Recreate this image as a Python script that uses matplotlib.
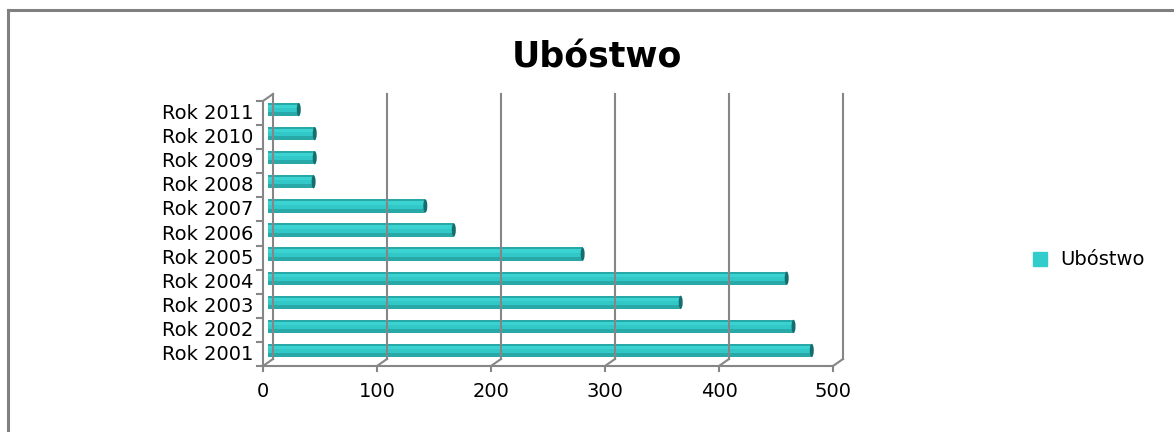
import matplotlib.pyplot as plt
from matplotlib.patches import Rectangle, Ellipse
from matplotlib.transforms import ScaledTranslation

plt.rcParams["font.family"] = ["DejaVu Sans"]

years = ["Rok 2001", "Rok 2002", "Rok 2003", "Rok 2004", "Rok 2005", "Rok 2006",
         "Rok 2007", "Rok 2008", "Rok 2009", "Rok 2010", "Rok 2011"]
values = [477, 461, 362, 455, 276, 163, 138, 40, 41, 41, 27]
xticks = [0, 100, 200, 300, 400, 500]
series_name = "Ubóstwo"

W, H, DPI = 1174, 432, 100
fig = plt.figure(figsize=(W / DPI, H / DPI), dpi=DPI)

# front plane of the 3d box, in pixels
left, right, bottom, top = 263, 833, 366, 101
ax = fig.add_axes([left / W, (H - bottom) / H, (right - left) / W, (bottom - top) / H])
ax.set_xlim(0, 500)
ax.set_ylim(0, len(years))
ax.axis("off")

px_x = 500 / (right - left)          # data units per pixel, x
px_y = len(years) / (bottom - top)   # data units per pixel, y

grid_c = "#868686"
dx, dy = 10, 7  # depth offset in pixels
back = ax.transData + ScaledTranslation(dx / DPI, dy / DPI, fig.dpi_scale_trans)
mid = ax.transData + ScaledTranslation(dx / 2 / DPI, dy / 2 / DPI, fig.dpi_scale_trans)
n = len(years)

# back wall gridlines and floor diagonals
for t in xticks:
    ax.plot([t, t], [0, n], color=grid_c, lw=1.5, transform=back, clip_on=False)
    ax.plot([t, t + dx * px_x], [0, dy * px_y], color=grid_c, lw=1.5, clip_on=False)
    ax.plot([t, t], [0, -5 * px_y], color=grid_c, lw=1.5, clip_on=False)
# left wall top diagonal
ax.plot([0, dx * px_x], [n, n + dy * px_y], color=grid_c, lw=1.5, clip_on=False)
# front axes
ax.plot([0, 0], [0, n], color=grid_c, lw=1.5, clip_on=False)
ax.plot([0, 500], [0, 0], color=grid_c, lw=1.5, clip_on=False)
for i in range(n + 1):
    ax.plot([-6 * px_x, 0], [i, i], color=grid_c, lw=1.5, clip_on=False)

# bars
h = 0.55
for i, v in enumerate(values):
    y0 = i + 0.5 - h / 2
    ax.add_patch(Rectangle((0, y0), v, h, color="#29A8A8", transform=mid, lw=0))
    ax.add_patch(Rectangle((0, y0 + h * 0.3), v, h * 0.55, color="#32C8C8", transform=mid, lw=0))
    ax.add_patch(Rectangle((0, y0 + h * 0.6), v, h * 0.25, color="#3BD2D2", transform=mid, lw=0))
    ax.add_patch(Ellipse((v, i + 0.5), 4 * px_x, h, color="#146E6E", transform=mid, lw=0))

# labels
for i, lab in enumerate(years):
    ax.text(-10 * px_x, i + 0.5 - 6 * px_y, lab, ha="right", va="baseline",
            fontsize=14, color="black")
for t in xticks:
    ax.text(t, -31 * px_y, str(t), ha="center", va="baseline", fontsize=14, color="black")

fig.text(597 / W, 1 - 68 / H, "Ubóstwo", ha="center", va="baseline", fontsize=25,
         fontweight="bold", color="black")

# legend
fig.patches.append(Rectangle((1033 / W, 1 - 266 / H), 14 / W, 14 / H, color="#33CCCC",
                             transform=fig.transFigure, figure=fig))
fig.text(1060 / W, 1 - 265 / H, series_name, ha="left", va="baseline", fontsize=14,
         color="black")

# chart border (only top and left visible)
fig.add_artist(plt.Line2D([8 / W, 8 / W], [0, 1 - 10 / H], color="#808080", lw=2.2,
                          transform=fig.transFigure))
fig.add_artist(plt.Line2D([8 / W, 1], [1 - 10 / H, 1 - 10 / H], color="#808080", lw=2.2,
                          transform=fig.transFigure))

fig.savefig("out.png", dpi=DPI, facecolor="white")
